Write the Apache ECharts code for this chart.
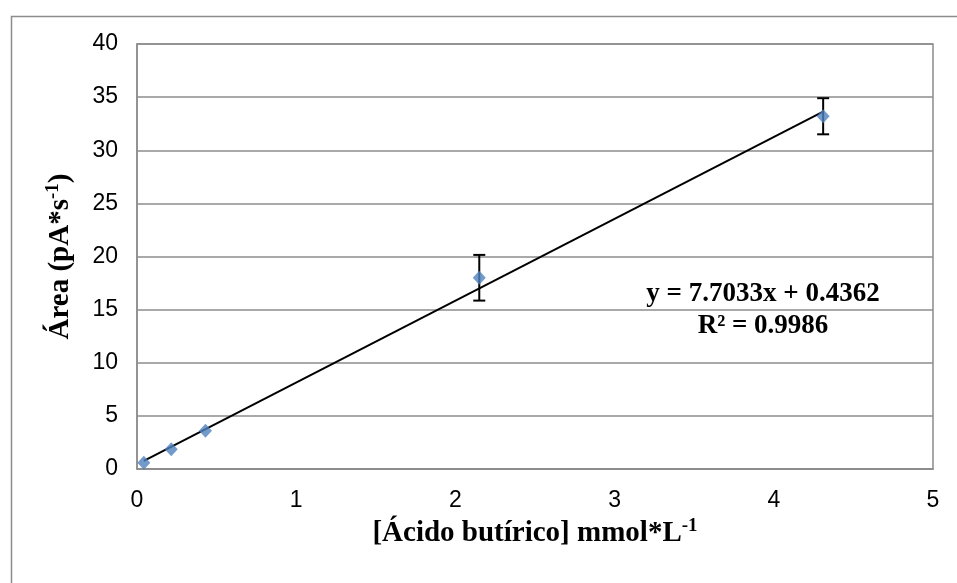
<!DOCTYPE html>
<html>
<head>
<meta charset="utf-8">
<script src="https://cdn.jsdelivr.net/npm/echarts@6/dist/echarts.min.js"></script>
<style>
  html, body { margin: 0; padding: 0; background: #fff; }
  #chart { width: 957px; height: 583px; }
</style>
</head>
<body>
<div id="chart"></div>
<script>
// Calibration data: butyric acid concentration vs peak area
const concentration = [0.043, 0.215, 0.43, 2.15, 4.31];
const area = [0.6, 1.85, 3.6, 18.0, 33.2];
const areaError = [0.0, 0.0, 0.0, 2.15, 1.7];

// Linear fit reported on the chart
const slope = 7.7033;
const intercept = 0.4362;
const rSquared = 0.9986;

const points = concentration.map((c, i) => [c, area[i]]);
const errorData = concentration.map((c, i) => [c, area[i] - areaError[i], area[i] + areaError[i]]);
const xMin = Math.min(...concentration);
const xMax = Math.max(...concentration);
const fitLine = [[xMin, slope * xMin + intercept], [xMax, slope * xMax + intercept]];

const chart = echarts.init(document.getElementById('chart'), null, { renderer: 'canvas' });

const gray = '#8c8c8c';
const serif = '"Liberation Serif", "Times New Roman", serif';
const sans = '"Liberation Sans", Arial, sans-serif';

chart.setOption({
  animation: false,
  backgroundColor: '#ffffff',
  graphic: [{
    type: 'rect',
    left: 9, top: 14,
    shape: { width: 970, height: 620 },
    style: { fill: 'none', stroke: gray, lineWidth: 1.5 },
    silent: true
  }, {
    type: 'text',
    x: 763, y: 294,
    style: {
      text: 'y = ' + slope.toFixed(4) + 'x + ' + intercept.toFixed(4),
      font: 'bold 27px ' + serif,
      fill: '#000', textAlign: 'center', textVerticalAlign: 'middle'
    }
  }, {
    type: 'text',
    x: 763, y: 326,
    style: {
      text: 'R² = ' + rSquared.toFixed(4),
      font: 'bold 27px ' + serif,
      fill: '#000', textAlign: 'center', textVerticalAlign: 'middle'
    }
  }],
  grid: {
    left: 137, top: 44, right: 24, bottom: 114,
    show: true, borderColor: gray, borderWidth: 1.5, containLabel: false
  },
  xAxis: {
    type: 'value', min: 0, max: 5, interval: 1,
    axisLine: { show: true, lineStyle: { color: gray, width: 1.5 } },
    axisTick: { show: false },
    splitLine: { show: false },
    axisLabel: { fontFamily: sans, fontSize: 23, color: '#000', margin: 20 },
    name: '{t|[Ácido butírico] mmol*L}{s|-1}',
    nameLocation: 'middle',
    nameGap: 43,
    nameTextStyle: {
      rich: {
        t: { fontFamily: serif, fontSize: 29, fontWeight: 'bold', color: '#000' },
        s: { fontFamily: serif, fontSize: 19, fontWeight: 'bold', color: '#000', padding: [0, 0, 14, 0] }
      }
    }
  },
  yAxis: {
    type: 'value', min: 0, max: 40, interval: 5,
    axisLine: { show: true, lineStyle: { color: gray, width: 1.5 } },
    axisTick: { show: false },
    splitLine: { show: true, lineStyle: { color: gray, width: 1.5 } },
    axisLabel: { fontFamily: sans, fontSize: 23, color: '#000', margin: 19 },
    name: '{t|Área (pA*s}{s|-1}{t|)}',
    nameLocation: 'middle',
    nameRotate: 90,
    nameGap: 60,
    nameTextStyle: {
      rich: {
        t: { fontFamily: serif, fontSize: 29, fontWeight: 'bold', color: '#000' },
        s: { fontFamily: serif, fontSize: 19, fontWeight: 'bold', color: '#000', padding: [0, 0, 14, 0] }
      }
    }
  },
  series: [{
    type: 'line',
    data: fitLine,
    symbol: 'none',
    lineStyle: { color: '#000', width: 2 },
    z: 3
  }, {
    type: 'custom',
    data: errorData,
    z: 4,
    renderItem: function (params, api) {
      const x = api.value(0);
      const lo = api.coord([x, api.value(1)]);
      const hi = api.coord([x, api.value(2)]);
      if (Math.abs(hi[1] - lo[1]) < 1) return null;
      const half = 6;
      const style = { stroke: '#000', lineWidth: 2 };
      return {
        type: 'group',
        children: [
          { type: 'line', shape: { x1: lo[0], y1: lo[1], x2: hi[0], y2: hi[1] }, style: style },
          { type: 'line', shape: { x1: lo[0] - half, y1: lo[1], x2: lo[0] + half, y2: lo[1] }, style: style },
          { type: 'line', shape: { x1: hi[0] - half, y1: hi[1], x2: hi[0] + half, y2: hi[1] }, style: style }
        ]
      };
    }
  }, {
    type: 'scatter',
    data: points,
    symbol: 'diamond',
    symbolSize: [13, 14],
    itemStyle: { color: '#4f81bd' },
    z: 5
  }]
});
</script>
</body>
</html>
